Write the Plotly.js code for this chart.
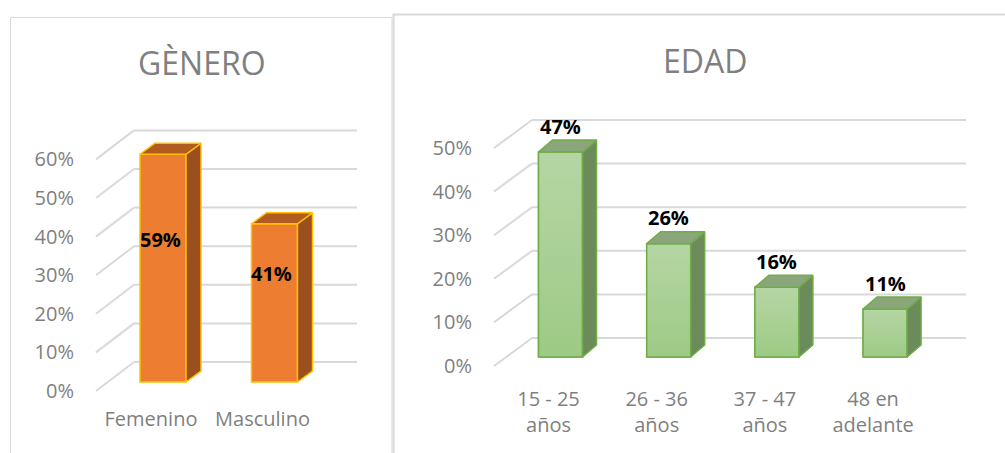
<!DOCTYPE html>
<html><head><meta charset="utf-8">
<script src="https://cdn.plot.ly/plotly-3.0.1.min.js"></script>
<style>html,body{margin:0;padding:0;background:#fff}#chart{width:1005px;height:453px}</style>
</head><body><div id="chart"></div>
<script>
// ---- data ----
const generoTitle = 'GÈNERO';
const generoCategories = ['Femenino', 'Masculino'];
const generoValues = [0.59, 0.41];
const generoTicks = [0, 0.1, 0.2, 0.3, 0.4, 0.5, 0.6];

const edadTitle = 'EDAD';
const edadCategories = ['15 - 25<br>años', '26 - 36<br>años', '37 - 47<br>años', '48 en<br>adelante'];
const edadValues = [0.47, 0.26, 0.16, 0.11];
const edadTicks = [0, 0.1, 0.2, 0.3, 0.4, 0.5];

// ---- geometry (pixels) ----
const W = 1005, H = 453;
const FONT = 'Open Sans, Noto Sans, sans-serif';
const GRAY = '#7f7f7f';
const geo = {
  L: {x0: 163, xu: 111.5, y0: 382, yu: 386, dom: [80, 370], domY: [100, 395], barW: 46, dep: [15, 11],
      frontX: 96, backX: 134, frontOff: 9, backOff: -20, gridR: 357},
  R: {x0: 560.5, xu: 108.2, y0: 357, yu: 436, dom: [478, 975], domY: [95, 375], barW: 44, dep: [14, 12],
      frontX: 494, backX: 532, frontOff: 9, backOff: -19, gridR: 966}
};
const toX = (g, px) => (px - g.x0) / g.xu;
const toY = (g, py) => (g.y0 - py) / g.yu;

const shapes = [];
const traces = [];
const annotations = [];

function panel(g, xa, ya, cats, vals, ticks, colors) {
  const idx = cats.map((c, i) => i);
  const w = g.barW / g.xu;
  const ddx = g.dep[0] / g.xu, ddy = g.dep[1] / g.yu;
  // grid: left wall diagonals + back wall lines
  ticks.forEach(t => {
    const pyF = g.y0 + g.frontOff - g.yu * t;
    const pyB = g.y0 + g.backOff - g.yu * t;
    shapes.push({type: 'line', xref: xa, yref: ya, layer: 'below',
      x0: toX(g, g.frontX), y0: toY(g, pyF), x1: toX(g, g.backX), y1: toY(g, pyB),
      line: {color: '#d9d9d9', width: 2}});
    shapes.push({type: 'line', xref: xa, yref: ya, layer: 'below',
      x0: toX(g, g.backX), y0: toY(g, pyB), x1: toX(g, g.gridR), y1: toY(g, pyB),
      line: {color: '#d9d9d9', width: 2}});
  });
  // front faces
  traces.push({type: 'bar', x: idx, y: vals, width: w, xaxis: xa, yaxis: ya,
    marker: {color: colors.front, line: {color: colors.edge, width: 1.5}},
    hoverinfo: 'none', showlegend: false});
  // optional vertical gradient on each front face
  if (colors.grad) {
    idx.forEach(i => {
      const v = vals[i], xl = i - w / 2, xr = i + w / 2;
      traces.push({type: 'scatter', mode: 'lines', x: [xl, xr, xr, xl, xl], y: [0, 0, v, v, 0],
        fill: 'toself', fillgradient: {type: 'vertical', colorscale: [[0, colors.grad[0]], [1, colors.grad[1]]]},
        line: {color: colors.edge, width: 1.5}, xaxis: xa, yaxis: ya, hoverinfo: 'none', showlegend: false});
    });
  }
  // side and top faces
  const sx = [], sy = [], tx = [], ty = [];
  idx.forEach(i => {
    const v = vals[i], xl = i - w / 2, xr = i + w / 2;
    sx.push(xr, xr, xr + ddx, xr + ddx, xr, null);
    sy.push(0, v, v + ddy, ddy, 0, null);
    tx.push(xl, xr, xr + ddx, xl + ddx, xl, null);
    ty.push(v, v, v + ddy, v + ddy, v, null);
  });
  traces.push({type: 'scatter', mode: 'lines', x: sx, y: sy, fill: 'toself', fillcolor: colors.side,
    line: {color: colors.edge, width: 1.5}, xaxis: xa, yaxis: ya, hoverinfo: 'none', showlegend: false});
  traces.push({type: 'scatter', mode: 'lines', x: tx, y: ty, fill: 'toself', fillcolor: colors.top,
    line: {color: colors.edge, width: 1.5}, xaxis: xa, yaxis: ya, hoverinfo: 'none', showlegend: false});
}

panel(geo.L, 'x', 'y', generoCategories, generoValues, generoTicks,
  {front: '#ed7d31', side: '#9c4f1e', top: '#b25b21', edge: '#ffc000'});
panel(geo.R, 'x2', 'y2', edadCategories, edadValues, edadTicks,
  {front: '#a9d18e', side: '#6c8b5b', top: '#8aa67a', edge: '#70ad47', grad: ['#9dca85', '#b5d6a4']});

// data labels
generoValues.forEach((v, i) => annotations.push({xref: 'x', yref: 'y', x: i, y: v / 2, xshift: -3, yshift: 29,
  text: '<b>' + Math.round(v * 100) + '%</b>', showarrow: false, font: {family: FONT, size: 20, color: '#000'}}));
edadValues.forEach((v, i) => annotations.push({xref: 'x2', yref: 'y2', x: i, y: v, yshift: 26,
  text: '<b>' + Math.round(v * 100) + '%</b>', showarrow: false, font: {family: FONT, size: 20, color: '#000'}}));
// panel titles
annotations.push({xref: 'paper', yref: 'paper', x: 202 / W, y: 1 - 62 / H, xanchor: 'center', yanchor: 'middle',
  text: generoTitle, showarrow: false, font: {family: FONT, size: 32, color: GRAY}});
annotations.push({xref: 'paper', yref: 'paper', x: 705 / W, y: 1 - 60 / H, xanchor: 'center', yanchor: 'middle',
  text: edadTitle, showarrow: false, font: {family: FONT, size: 32, color: GRAY}});

// panel borders
shapes.push({type: 'rect', xref: 'paper', yref: 'paper', x0: 10.5 / W, x1: 392 / W, y0: -0.1, y1: 1 - 17.5 / H,
  line: {color: '#d9d9d9', width: 1}, layer: 'below'});
shapes.push({type: 'rect', xref: 'paper', yref: 'paper', x0: 393.5 / W, x1: 1.02, y0: -0.1, y1: 1 - 14.5 / H,
  line: {color: '#d9d9d9', width: 2}, layer: 'below'});

function xaxis(g, cats) {
  return {domain: [g.dom[0] / W, g.dom[1] / W], range: [toX(g, g.dom[0]), toX(g, g.dom[1])],
    tickvals: cats.map((c, i) => i), ticktext: cats, showgrid: false, zeroline: false, showline: false,
    ticks: '', ticklabelshift: -12, ticklabelstandoff: 10,
    tickfont: {family: FONT, size: 20, color: GRAY}, fixedrange: true};
}
function yaxis(g, ticks, anchor) {
  return {domain: [1 - g.domY[1] / H, 1 - g.domY[0] / H], range: [toY(g, g.domY[1]), toY(g, g.domY[0])],
    tickvals: ticks, tickformat: '.0%', showgrid: false, zeroline: false, showline: false, ticks: '',
    ticklabelshift: 9, ticklabelstandoff: 5,
    tickfont: {family: FONT, size: 20, color: GRAY}, fixedrange: true, anchor: anchor};
}

const layout = {
  width: W, height: H, margin: {l: 0, r: 0, t: 0, b: 0},
  paper_bgcolor: '#fff', plot_bgcolor: 'rgba(0,0,0,0)', showlegend: false,
  xaxis: Object.assign(xaxis(geo.L, generoCategories), {anchor: 'y'}),
  yaxis: yaxis(geo.L, generoTicks, 'x'),
  xaxis2: Object.assign(xaxis(geo.R, edadCategories), {anchor: 'y2'}),
  yaxis2: yaxis(geo.R, edadTicks, 'x2'),
  shapes: shapes, annotations: annotations
};

Plotly.newPlot('chart', traces, layout, {displayModeBar: false, staticPlot: true});
</script>
</body></html>
